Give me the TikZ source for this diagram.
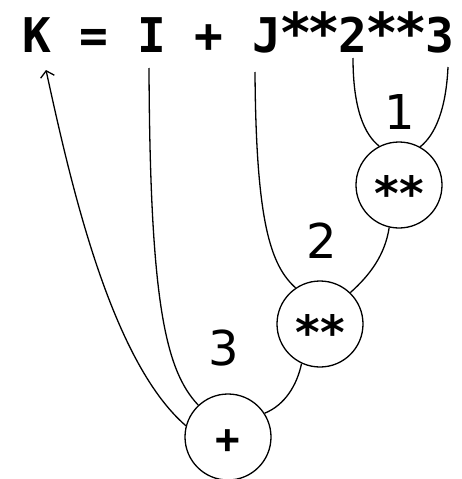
\documentclass[tikz,border=0pt]{standalone}
\usepackage{fontspec}
\newfontfamily\exprfont{DejaVu Sans Mono}
\newfontfamily\labfont{DejaVu Sans}
\newfontfamily\starfont{DejaVu Sans}[Scale=1.15]
\newcommand\strs{\makebox[1.204em]{\starfont\bfseries **}}
\usetikzlibrary{arrows.meta}
\begin{document}
\begin{tikzpicture}[x=1pt,y=-1pt,
  op/.style={circle,draw,line width=1.3pt,minimum size=86pt,inner sep=0pt,
    font=\exprfont\bfseries\fontsize{41}{41}\selectfont},
  lab/.style={font=\labfont\fontsize{48}{48}\selectfont,inner sep=0pt},
  link/.style={line width=1.3pt}]
\useasboundingbox (0,0) rectangle (461,479);
\node[anchor=base west,inner sep=0pt,font=\exprfont\bfseries\fontsize{47.8}{48}\selectfont] (expr) at (22,52) {K = I + J\strs2\strs3};
\coordinate (Kb) at (46,70);
\coordinate (Ib) at (149,68);
\coordinate (Jb) at (255,72);
\coordinate (Tb) at (353,58);
\coordinate (Hb) at (448,67);
\node[op] (c1) at (399,185) {\smash{\raisebox{-0.62em}{\strs}}};
\node[op] (c2) at (320,324) {\smash{\raisebox{-0.62em}{\strs}}};
\node[op] (c3) at (228,437) {\smash{\raisebox{-0.4em}{+}}};
\node[lab] (l1) at (400,112) {1};
\node[lab] (l2) at (322,241) {2};
\node[lab] (l3) at (224,348) {3};
\draw[link] (Tb) .. controls (353,110) and (365,135) .. (c1.117);
\draw[link] (Hb) .. controls (446,110) and (435,135) .. (c1.61);
\draw[link] (Jb) .. controls (256,220) and (270,265) .. (c2.124);
\draw[link] (c1.257) .. controls (385,255) and (370,275) .. (c2.46);
\draw[link] (Ib) .. controls (150,300) and (165,370) .. (c3.133);
\draw[link] (c2.245) .. controls (297,385) and (285,405) .. (c3.33);
\draw[link,-{Straight Barb[length=6pt,width=14pt]}] (c3.165) .. controls (110,360) and (70,180) .. (Kb);
\end{tikzpicture}
\end{document}
